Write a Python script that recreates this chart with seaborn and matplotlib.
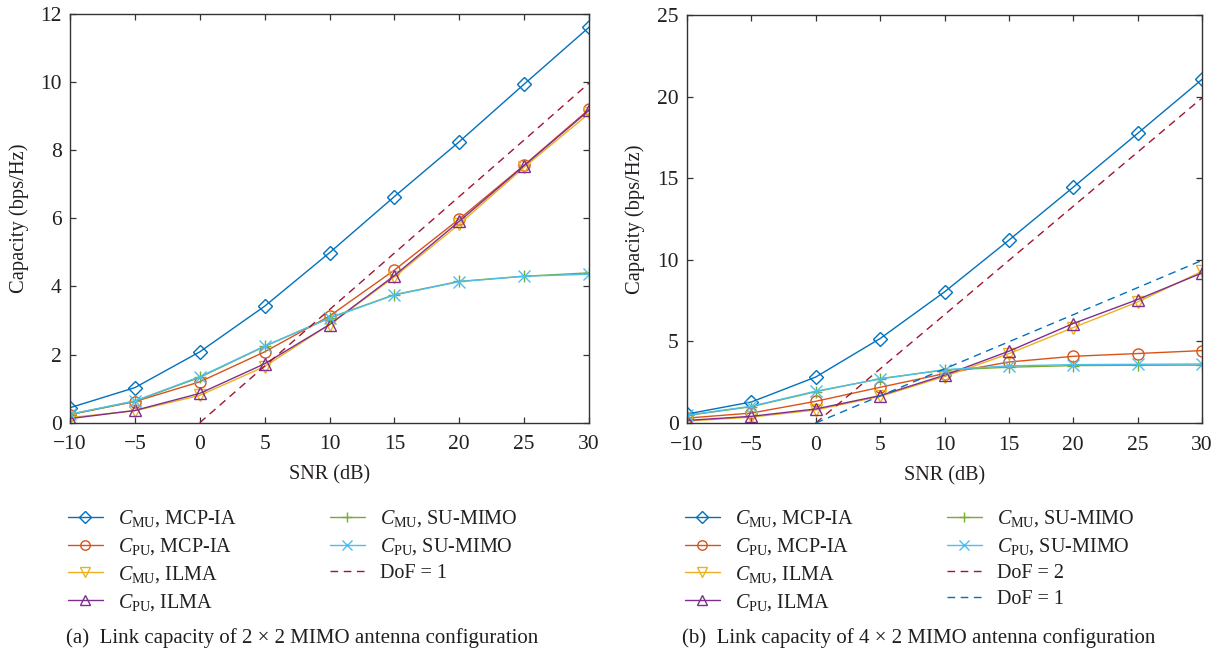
import matplotlib
matplotlib.use("Agg")
import matplotlib.pyplot as plt
import seaborn as sns

# SNR grid (dB) and asymptotic reference grid
snr = [-10, -5, 0, 5, 10, 15, 20, 25, 30]
dof_snr = [0, 5, 10, 15, 20, 25, 30]

# (a) 2 x 2 MIMO link capacity (bps/Hz)
a_cmu_mcp = [0.44, 1.03, 2.08, 3.42, 4.99, 6.64, 8.25, 9.94, 11.61]
a_cpu_mcp = [0.24, 0.62, 1.20, 2.08, 3.13, 4.48, 5.98, 7.56, 9.20]
a_cmu_ilma = [0.15, 0.35, 0.80, 1.65, 2.88, 4.28, 5.83, 7.50, 9.08]
a_cpu_ilma = [0.12, 0.36, 0.86, 1.73, 2.88, 4.32, 5.91, 7.55, 9.17]
a_cmu_su = [0.24, 0.63, 1.33, 2.24, 3.08, 3.76, 4.15, 4.30, 4.40]
a_cpu_su = [0.25, 0.64, 1.35, 2.25, 3.07, 3.75, 4.14, 4.30, 4.36]
a_dof1 = [0.0, 1.66, 3.32, 4.98, 6.64, 8.30, 9.97]

# (b) 4 x 2 MIMO link capacity (bps/Hz)
b_cmu_mcp = [0.55, 1.29, 2.82, 5.18, 8.04, 11.21, 14.46, 17.76, 21.07]
b_cpu_mcp = [0.30, 0.61, 1.33, 2.19, 3.03, 3.74, 4.09, 4.26, 4.44]
b_cmu_ilma = [0.12, 0.36, 0.80, 1.63, 2.85, 4.25, 5.85, 7.42, 9.30]
b_cpu_ilma = [0.16, 0.41, 0.86, 1.68, 2.93, 4.40, 6.10, 7.57, 9.20]
b_cmu_su = [0.46, 1.00, 1.92, 2.72, 3.25, 3.42, 3.52, 3.54, 3.55]
b_cpu_su = [0.48, 1.03, 1.95, 2.70, 3.27, 3.50, 3.58, 3.60, 3.62]
b_dof2 = [0.0, 3.32, 6.64, 9.97, 13.29, 16.61, 19.93]
b_dof1 = [0.0, 1.66, 3.32, 4.98, 6.64, 8.30, 9.97]

x_ticks = [-10, -5, 0, 5, 10, 15, 20, 25, 30]
a_yticks = [0, 2, 4, 6, 8, 10, 12]
b_yticks = [0, 5, 10, 15, 20, 25]

labels = [r"$C_{\mathrm{MU}}$, MCP-IA", r"$C_{\mathrm{PU}}$, MCP-IA",
          r"$C_{\mathrm{MU}}$, ILMA", r"$C_{\mathrm{PU}}$, ILMA",
          r"$C_{\mathrm{MU}}$, SU-MIMO", r"$C_{\mathrm{PU}}$, SU-MIMO"]
colors = ["#0072BD", "#D95319", "#EDB120", "#7E2F8E", "#77AC30", "#4DBEEE"]
markers = ["D", "o", "v", "^", "+", "x"]
msizes = [7.5, 8, 8, 8, 9, 8]
RED = "#A2142F"
BLUE = "#0072BD"
INK = "#231F20"

sns.set_theme(style="ticks")
plt.rcParams.update({
    "font.family": ["Liberation Serif", "DejaVu Serif"],
    "mathtext.fontset": "custom",
    "mathtext.rm": "Liberation Serif",
    "mathtext.it": "Liberation Serif:italic",
    "mathtext.bf": "Liberation Serif:bold",
    "text.color": INK,
    "axes.labelcolor": INK,
    "xtick.color": "#333333",
    "ytick.color": "#333333",
    "xtick.labelcolor": INK,
    "ytick.labelcolor": INK,
    "axes.edgecolor": "#333333",
})

fig = plt.figure(figsize=(12.21, 6.54), dpi=100)
ax_a = fig.add_axes([70 / 1221, 1 - 422.7 / 654, 519 / 1221, 408.7 / 654])
ax_b = fig.add_axes([687 / 1221, 1 - 423 / 654, 515 / 1221, 407.7 / 654])


def draw_panel(ax, series, dofs, yticks, ymax):
    for vals, lab, c, m, ms in zip(series, labels, colors, markers, msizes):
        sns.lineplot(x=snr, y=vals, ax=ax, color=c, marker=m, markersize=ms,
                     markerfacecolor="none", markeredgecolor=c,
                     markeredgewidth=1.0, linewidth=1.0, label=lab)
    for vals, lab, c in dofs:
        sns.lineplot(x=dof_snr, y=vals, ax=ax, color=c, linewidth=1.0, label=lab)
        ax.lines[-1].set_linestyle((0, (5.5, 4)))
    ax.set_xlim(-10, 30)
    ax.set_ylim(0, ymax)
    ax.set_xticks(x_ticks)
    ax.set_yticks(yticks)
    ax.tick_params(direction="in", top=True, right=True, length=4, width=0.9,
                   labelsize=15.5)
    ax.tick_params(axis="x", pad=9)
    ax.tick_params(axis="y", pad=6)
    for sp in ax.spines.values():
        sp.set_linewidth(1.0)
        sp.set_visible(True)
    ax.set_xlabel("SNR (dB)", fontsize=14.5)
    ax.set_ylabel("Capacity (bps/Hz)", fontsize=14.8)
    handles, labs = ax.get_legend_handles_labels()
    leg = ax.legend(handles, labs, ncol=2, loc="upper left",
                    bbox_to_anchor=(-0.02, -0.19), frameon=False,
                    fontsize=14.5, handlelength=1.75, handletextpad=0.75,
                    columnspacing=4.6, labelspacing=0.34, borderaxespad=0,
                    markerscale=0.85)
    return leg


draw_panel(ax_a, [a_cmu_mcp, a_cpu_mcp, a_cmu_ilma, a_cpu_ilma, a_cmu_su, a_cpu_su],
           [(a_dof1, "DoF = 1", RED)], a_yticks, 12)
draw_panel(ax_b, [b_cmu_mcp, b_cpu_mcp, b_cmu_ilma, b_cpu_ilma, b_cmu_su, b_cpu_su],
           [(b_dof2, "DoF = 2", RED), (b_dof1, "DoF = 1", BLUE)], b_yticks, 25)

ax_a.yaxis.set_label_coords(-0.079, 0.5)
ax_b.yaxis.set_label_coords(-0.082, 0.5)
ax_a.xaxis.set_label_coords(0.5, -0.105)
ax_b.xaxis.set_label_coords(0.5, -0.105)

fig.text(66 / 1221, 1 - 643 / 654, "(a)  Link capacity of 2 \u00d7 2 MIMO antenna configuration",
         fontsize=15, va="baseline", ha="left")
fig.text(682 / 1221, 1 - 643 / 654, "(b)  Link capacity of 4 \u00d7 2 MIMO antenna configuration",
         fontsize=15, va="baseline", ha="left")

fig.savefig("out.png", dpi=100, facecolor="white")
